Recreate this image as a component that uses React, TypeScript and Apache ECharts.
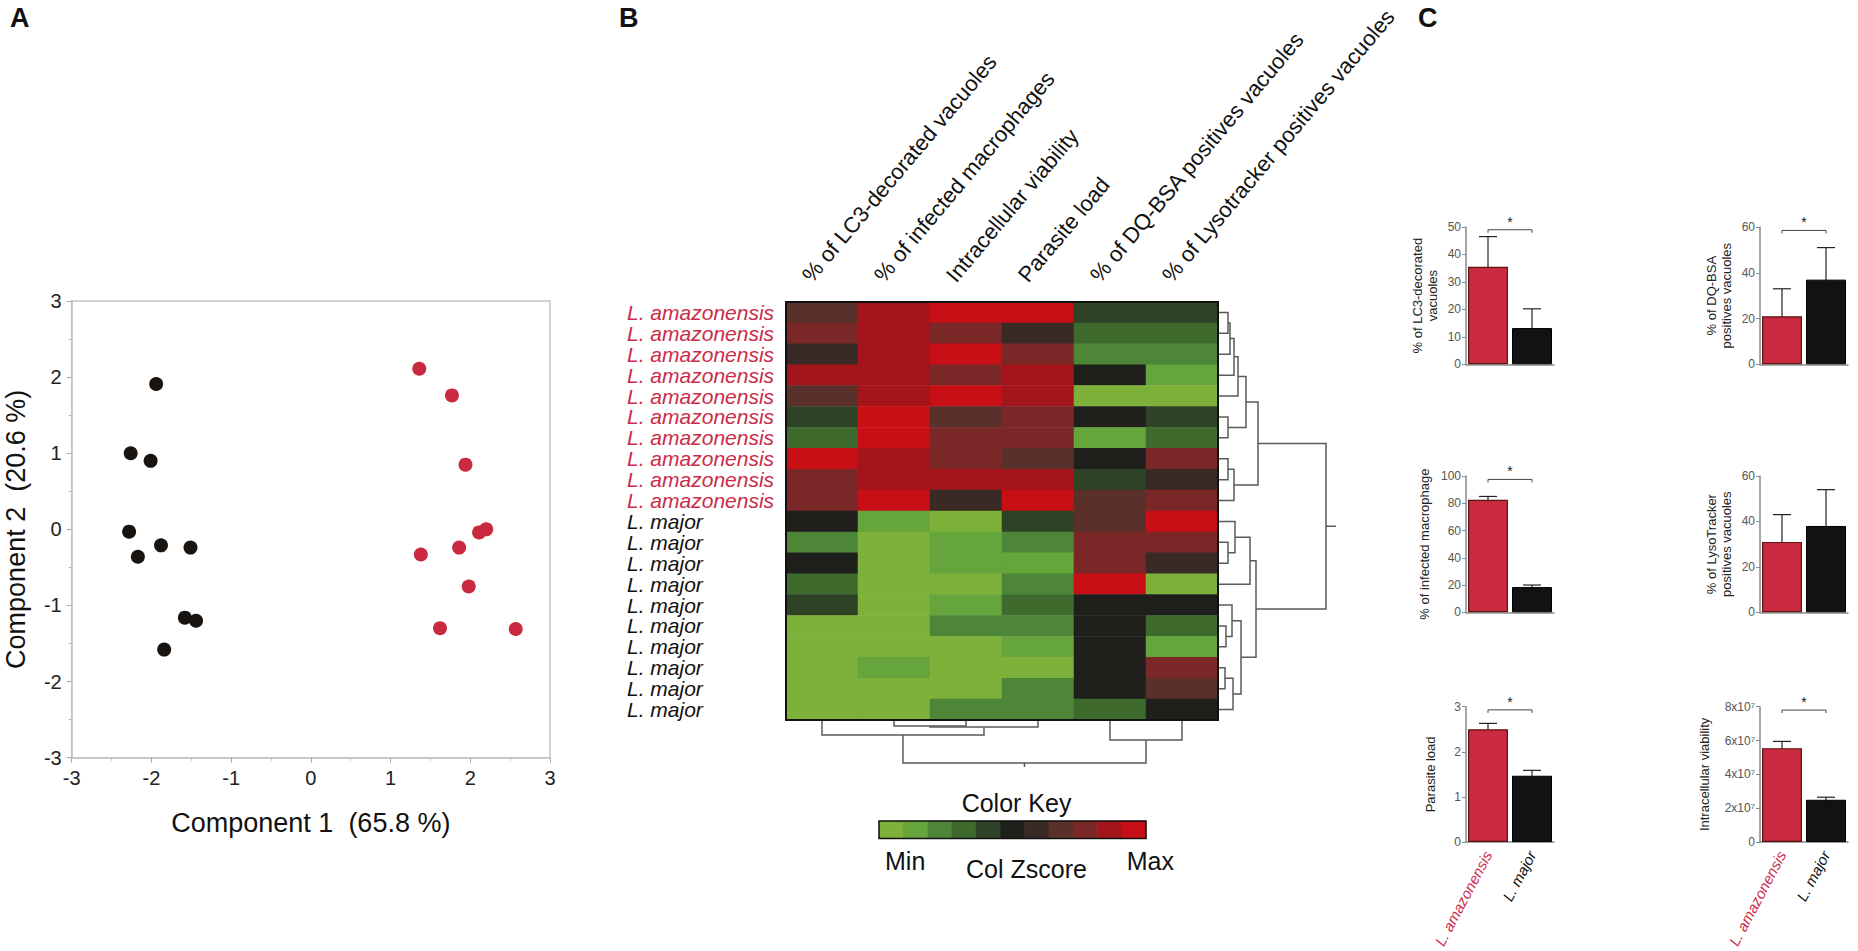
import { useEffect, useRef } from "react";
import * as echarts from "echarts";

const FONT = "'Liberation Sans', Arial, Helvetica, sans-serif";
const RED = "#c92a40";
const BLACK = "#1a1411";

// ---------- Panel A : PCA ----------
const pcaAmazX = [1.36, 1.77, 1.94, 2.11, 1.86, 1.38, 1.98, 1.62, 2.2, 2.57];
const pcaAmazY = [2.11, 1.76, 0.85, -0.04, -0.24, -0.33, -0.75, -1.3, 0.0, -1.31];
const pcaMajorX = [-1.94, -2.26, -2.01, -2.28, -2.17, -1.88, -1.51, -1.58, -1.44, -1.84];
const pcaMajorY = [1.91, 1.0, 0.9, -0.03, -0.36, -0.21, -0.24, -1.16, -1.2, -1.58];

// ---------- Panel B : heatmap ----------
const heatColumns = [
  "% of LC3-decorated vacuoles",
  "% of infected macrophages",
  "Intracellular viability",
  "Parasite load",
  "% of DQ-BSA positives vacuoles",
  "% of Lysotracker positives vacuoles",
];
const heatRows = [
  "L. amazonensis", "L. amazonensis", "L. amazonensis", "L. amazonensis", "L. amazonensis",
  "L. amazonensis", "L. amazonensis", "L. amazonensis", "L. amazonensis", "L. amazonensis",
  "L. major", "L. major", "L. major", "L. major", "L. major",
  "L. major", "L. major", "L. major", "L. major", "L. major",
];
// colour-key bin (0 = Min ... 10 = Max) of each cell
const heatLevels = [
  [7, 9, 10, 10, 4, 4],
  [8, 9, 8, 6, 3, 3],
  [6, 9, 10, 8, 2, 2],
  [9, 9, 8, 9, 5, 1],
  [7, 9, 10, 9, 0, 0],
  [4, 10, 7, 8, 5, 4],
  [3, 10, 8, 8, 1, 3],
  [10, 9, 8, 7, 5, 8],
  [8, 9, 9, 9, 4, 6],
  [8, 10, 6, 10, 7, 8],
  [5, 1, 0, 4, 7, 10],
  [2, 0, 1, 2, 8, 8],
  [5, 0, 1, 1, 8, 6],
  [3, 0, 0, 2, 10, 0],
  [4, 0, 1, 3, 5, 5],
  [0, 0, 2, 2, 5, 3],
  [0, 0, 0, 1, 5, 1],
  [0, 1, 0, 0, 5, 8],
  [0, 0, 0, 2, 5, 7],
  [0, 0, 2, 2, 3, 5],
];
const keyColors = [
  "#7eb13a", "#66a43c", "#4e8637", "#3e6a2e", "#2e4326", "#1f201c",
  "#3a2a25", "#5a302a", "#7a2727", "#a3151b", "#c90f16",
];
const keyLevels = [0, 1, 2, 3, 4, 5, 6, 7, 8, 9, 10];
// dendrogram merges: [child a, child b, height]  (leaves first, then merges in order)
const rowMerges = [
  [0, 1, 10], [20, 2, 12], [21, 3, 16], [22, 4, 20], [5, 6, 10], [23, 24, 28],
  [7, 8, 10], [26, 9, 16], [25, 27, 40],
  [11, 12, 10], [10, 29, 17], [30, 13, 32], [15, 16, 8], [14, 32, 14],
  [17, 18, 7], [34, 19, 15], [33, 35, 23], [31, 36, 38], [28, 37, 108],
];
const rowRootTo = 118;
const colMerges = [[1, 2, 6], [6, 3, 7], [0, 7, 15], [4, 5, 20], [8, 9, 43]];
const colRootTo = 47;

// ---------- Panel C : bar charts ----------
const barGroups = ["L. amazonensis", "L. major"];
const lc3Mean = [35.5, 13.2];
const lc3Err = [11, 7];
const dqMean = [21, 37];
const dqErr = [12, 14];
const infMean = [82.5, 18.5];
const infErr = [2.5, 1.5];
const lysoMean = [31, 38];
const lysoErr = [12, 16];
const loadMean = [2.5, 1.47];
const loadErr = [0.13, 0.12];
const viabMean = [5.55e7, 2.5e7];
const viabErr = [0.4e7, 0.15e7];
const sigLevels = [49, 58.5, 97.5, null, 2.93, 7.8e7];

// ---------- layout ----------
const SC = { left: 71.7, top: 301, width: 478.3, height: 456.7 };
const HM = { left: 786, top: 302, width: 432, height: 418 };
const KEY = { left: 879, top: 821, width: 267, height: 17.5 };

export default function App() {
  const ref = useRef<HTMLDivElement>(null);

  useEffect(() => {
    if (!ref.current) return;
    const chart = echarts.init(ref.current, undefined, { renderer: "svg" });

    const grids: any[] = [];
    const xAxes: any[] = [];
    const yAxes: any[] = [];
    const series: any[] = [];
    const graphic: any[] = [];

    // ---------- Panel A ----------
    grids.push({ ...SC, show: true, borderColor: "#c4c4c4", borderWidth: 1.5, backgroundColor: "transparent" });
    xAxes.push({
      gridIndex: 0, type: "value", min: -3, max: 3, interval: 1,
      axisLine: { onZero: false, lineStyle: { color: "#c4c4c4", width: 1.5 } },
      axisTick: { lineStyle: { color: "#aaa" }, length: 5 },
      minorTick: { show: true, splitNumber: 2, length: 3, lineStyle: { color: "#bbb" } },
      splitLine: { show: false },
      axisLabel: { fontFamily: FONT, fontSize: 20, color: "#222", margin: 10 },
      name: "Component 1  (65.8 %)", nameLocation: "middle", nameGap: 52,
      nameTextStyle: { fontFamily: FONT, fontSize: 27, color: "#111" },
    });
    yAxes.push({
      gridIndex: 0, type: "value", min: -3, max: 3, interval: 1,
      axisLine: { onZero: false, lineStyle: { color: "#c4c4c4", width: 1.5 } },
      axisTick: { lineStyle: { color: "#aaa" }, length: 5 },
      minorTick: { show: true, splitNumber: 2, length: 3, lineStyle: { color: "#bbb" } },
      splitLine: { show: false },
      axisLabel: { fontFamily: FONT, fontSize: 20, color: "#222", margin: 10 },
      name: "Component 2  (20.6 %)", nameLocation: "middle", nameGap: 42,
      nameTextStyle: { fontFamily: FONT, fontSize: 27, color: "#111" },
    });
    series.push({
      type: "scatter", xAxisIndex: 0, yAxisIndex: 0, symbolSize: 14,
      itemStyle: { color: BLACK, opacity: 1 },
      data: pcaMajorX.map((x, i) => [x, pcaMajorY[i]]),
    });
    series.push({
      type: "scatter", xAxisIndex: 0, yAxisIndex: 0, symbolSize: 14,
      itemStyle: { color: RED, opacity: 1 },
      data: pcaAmazX.map((x, i) => [x, pcaAmazY[i]]),
    });

    // ---------- Panel B heatmap ----------
    grids.push({ ...HM });
    xAxes.push({ gridIndex: 1, type: "category", data: heatColumns, show: false });
    yAxes.push({
      gridIndex: 1, type: "category", data: heatRows, inverse: true,
      axisLine: { show: false }, axisTick: { show: false },
      axisLabel: {
        interval: 0, align: "left", margin: 159, fontFamily: FONT, fontSize: 21, lineHeight: 20, fontStyle: "italic",
        color: (v: string) => (v === "L. major" ? "#111" : "#cc2b49"),
      },
    });
    const heatData: number[][] = [];
    heatLevels.forEach((row, r) => row.forEach((lv, c) => heatData.push([c, r, lv])));
    const heatIdx = series.length;
    series.push({ type: "heatmap", xAxisIndex: 1, yAxisIndex: 1, data: heatData, itemStyle: { borderWidth: 0 } });

    // dendrograms
    const dendro = (n: number, merges: number[][], rootTo: number, rowWise: boolean) => {
      const pos: number[] = [];
      const hgt: number[] = [];
      for (let i = 0; i < n; i++) { pos.push(i + 0.5); hgt.push(0); }
      const out: any[] = [];
      const put = (pts: number[][]) => out.push({ coords: rowWise ? pts : pts.map(([h, p]) => [p, h]) });
      merges.forEach(([a, b, h]) => {
        put([[hgt[a], pos[a]], [h, pos[a]], [h, pos[b]], [hgt[b], pos[b]]]);
        pos.push((pos[a] + pos[b]) / 2);
        hgt.push(h);
      });
      const r = pos.length - 1;
      put([[hgt[r], pos[r]], [rootTo, pos[r]]]);
      return out;
    };
    grids.push({ left: HM.left + HM.width, top: HM.top, width: 120, height: HM.height });
    xAxes.push({ gridIndex: 2, type: "value", min: 0, max: 120, show: false });
    yAxes.push({ gridIndex: 2, type: "value", min: 0, max: 20, inverse: true, show: false });
    series.push({
      type: "lines", coordinateSystem: "cartesian2d", xAxisIndex: 2, yAxisIndex: 2, polyline: true,
      lineStyle: { color: "#5a5a5a", width: 1.5, opacity: 1 }, silent: true,
      data: dendro(20, rowMerges, rowRootTo, true),
    });
    grids.push({ left: HM.left, top: HM.top + HM.height, width: HM.width, height: 50 });
    xAxes.push({ gridIndex: 3, type: "value", min: 0, max: 6, show: false });
    yAxes.push({ gridIndex: 3, type: "value", min: 0, max: 50, inverse: true, show: false });
    series.push({
      type: "lines", coordinateSystem: "cartesian2d", xAxisIndex: 3, yAxisIndex: 3, polyline: true,
      lineStyle: { color: "#5a5a5a", width: 1.5, opacity: 1 }, silent: true,
      data: dendro(6, colMerges, colRootTo, false),
    });

    // colour key
    grids.push({ ...KEY });
    xAxes.push({ gridIndex: 4, type: "category", data: keyLevels.map(String), show: false });
    yAxes.push({ gridIndex: 4, type: "category", data: ["k"], show: false });
    const keyIdx = series.length;
    series.push({ type: "heatmap", xAxisIndex: 4, yAxisIndex: 4, data: keyLevels.map((v, i) => [i, 0, v]) });

    // ---------- Panel C bar charts ----------
    const charts = [
      { title: "% of LC3-decorated\nvacuoles", mean: lc3Mean, err: lc3Err, max: 50, interval: 10, sig: sigLevels[0] },
      { title: "% of DQ-BSA\npositives vacuoles", mean: dqMean, err: dqErr, max: 60, interval: 20, sig: sigLevels[1] },
      { title: "% of infected macrophage", mean: infMean, err: infErr, max: 100, interval: 20, sig: sigLevels[2] },
      { title: "% of LysoTracker\npositives vacuoles", mean: lysoMean, err: lysoErr, max: 60, interval: 20, sig: sigLevels[3] },
      { title: "Parasite load", mean: loadMean, err: loadErr, max: 3, interval: 1, sig: sigLevels[4] },
      { title: "Intracellular viability", mean: viabMean, err: viabErr, max: 8e7, interval: 2e7, sig: sigLevels[5] },
    ];
    const colLeft = [1466, 1760];
    const rowBox = [
      { top: 227, height: 137.3 },
      { top: 476, height: 136.3 },
      { top: 706.7, height: 139.3 },
    ];
    const nameGaps = [26, 26, 34, 26, 28, 48];
    charts.forEach((c, k) => {
      const gi = 5 + k;
      const rowI = Math.floor(k / 2);
      const box = rowBox[rowI];
      grids.push({ left: colLeft[k % 2], top: box.top, width: 88, height: box.height });
      xAxes.push({
        gridIndex: gi, type: "category", data: barGroups,
        axisLine: { lineStyle: { color: "#8a8a8a", width: 1.5 } },
        axisTick: { show: false },
        axisLabel: {
          show: rowI === 2,
          interval: 0, rotate: 62, margin: 10, fontFamily: FONT, fontSize: 15, fontStyle: "italic",
          color: (v: string) => (v === "L. major" ? "#111" : "#cc2b49"),
        },
      });
      yAxes.push({
        gridIndex: gi, type: "value", min: 0, max: c.max, interval: c.interval,
        axisLine: { show: true, lineStyle: { color: "#8a8a8a", width: 1.5 } },
        axisTick: { show: true, length: 4, lineStyle: { color: "#8a8a8a" } },
        splitLine: { show: false },
        axisLabel: {
          fontFamily: FONT, fontSize: 12, color: "#555", margin: 5,
          formatter: (v: number) => (c.max > 1e6 ? (v === 0 ? "0" : `${v / 1e7}x10⁷`) : String(v)),
        },
        name: c.title, nameLocation: "middle", nameGap: nameGaps[k],
        nameTextStyle: { fontFamily: FONT, fontSize: 13, color: "#222", lineHeight: 15 },
      });
      series.push({
        type: "bar", xAxisIndex: gi, yAxisIndex: gi, barWidth: 40,
        data: c.mean.map((v, i) => ({
          value: v,
          itemStyle: i === 0
            ? { color: RED, borderColor: "#5b1414", borderWidth: 1.2 }
            : { color: "#121212", borderColor: "#000", borderWidth: 1 },
        })),
      });
      series.push({
        type: "custom", xAxisIndex: gi, yAxisIndex: gi, silent: true,
        data: c.mean.map((v, i) => [i, v, c.err[i]]),
        renderItem: (params: any, api: any) => {
          const x = api.coord([api.value(0), 0])[0];
          const yt = api.coord([api.value(0), api.value(1) + api.value(2)])[1];
          const yb = api.coord([api.value(0), api.value(1) - api.value(2)])[1];
          const hw = 9;
          const st = { stroke: "#222", lineWidth: 1.2 };
          return {
            type: "group",
            children: [
              { type: "line", shape: { x1: x, y1: yt, x2: x, y2: yb }, style: st },
              { type: "line", shape: { x1: x - hw, y1: yt, x2: x + hw, y2: yt }, style: st },
              { type: "line", shape: { x1: x - hw, y1: yb, x2: x + hw, y2: yb }, style: st },
            ],
          };
        },
      });
      if (c.sig !== null) {
        series.push({
          type: "custom", xAxisIndex: gi, yAxisIndex: gi, silent: true,
          data: [[0, 1, c.sig]],
          renderItem: (params: any, api: any) => {
            const a = api.coord([api.value(0), api.value(2)]);
            const b = api.coord([api.value(1), api.value(2)]);
            const st = { stroke: "#444", lineWidth: 1 };
            return {
              type: "group",
              children: [
                { type: "line", shape: { x1: a[0], y1: a[1], x2: b[0], y2: b[1] }, style: st },
                { type: "line", shape: { x1: a[0], y1: a[1], x2: a[0], y2: a[1] + 3 }, style: st },
                { type: "line", shape: { x1: b[0], y1: b[1], x2: b[0], y2: b[1] + 3 }, style: st },
                {
                  type: "text",
                  style: { text: "*", x: (a[0] + b[0]) / 2, y: a[1] - 1, align: "center", verticalAlign: "bottom", fontSize: 14, fontFamily: FONT, fill: "#222" },
                },
              ],
            };
          },
        });
      }
    });

    // ---------- texts ----------
    const cellW = HM.width / heatColumns.length;
    heatColumns.forEach((t, i) => {
      graphic.push({
        type: "text", x: HM.left + (i + 0.5) * cellW - 7, y: HM.top - 16, rotation: (50 * Math.PI) / 180,
        style: { text: t, fontFamily: FONT, fontSize: 22, fill: "#111", align: "left", verticalAlign: "bottom" },
      });
    });
    graphic.push({
      type: "rect", shape: { x: HM.left, y: HM.top, width: HM.width, height: HM.height },
      style: { fill: "none", stroke: "#111", lineWidth: 2 }, z: 100,
    });
    graphic.push({
      type: "rect", shape: { x: KEY.left, y: KEY.top, width: KEY.width, height: KEY.height },
      style: { fill: "none", stroke: "#111", lineWidth: 1.5 }, z: 100,
    });
    graphic.push({ type: "text", x: KEY.left + KEY.width / 2 + 4, y: KEY.top - 6, style: { text: "Color Key", fontFamily: FONT, fontSize: 25, fill: "#111", align: "center", verticalAlign: "bottom" } });
    graphic.push({ type: "text", x: KEY.left + 6, y: KEY.top + KEY.height + 10, style: { text: "Min", fontFamily: FONT, fontSize: 25, fill: "#111", align: "left", verticalAlign: "top" } });
    graphic.push({ type: "text", x: KEY.left + KEY.width / 2 + 14, y: KEY.top + KEY.height + 18, style: { text: "Col Zscore", fontFamily: FONT, fontSize: 25, fill: "#111", align: "center", verticalAlign: "top" } });
    graphic.push({ type: "text", x: KEY.left + KEY.width + 28, y: KEY.top + KEY.height + 10, style: { text: "Max", fontFamily: FONT, fontSize: 25, fill: "#111", align: "right", verticalAlign: "top" } });
    [["A", 10], ["B", 619], ["C", 1418]].forEach(([t, x]) => {
      graphic.push({ type: "text", x: x as number, y: 4, style: { text: t as string, fontFamily: FONT, fontSize: 27, fontWeight: "bold", fill: "#111" } });
    });

    chart.setOption({
      animation: false,
      backgroundColor: "#fff",
      textStyle: { fontFamily: FONT },
      grid: grids,
      xAxis: xAxes,
      yAxis: yAxes,
      visualMap: {
        type: "piecewise", show: false, dimension: 2, seriesIndex: [heatIdx, keyIdx],
        pieces: keyColors.map((color, i) => ({ value: keyLevels[i], color })),
      },
      series,
      graphic,
    });
    return () => chart.dispose();
  }, []);

  return <div ref={ref} style={{ position: "absolute", left: 0, top: 0, width: 1858, height: 951 }} />;
}
